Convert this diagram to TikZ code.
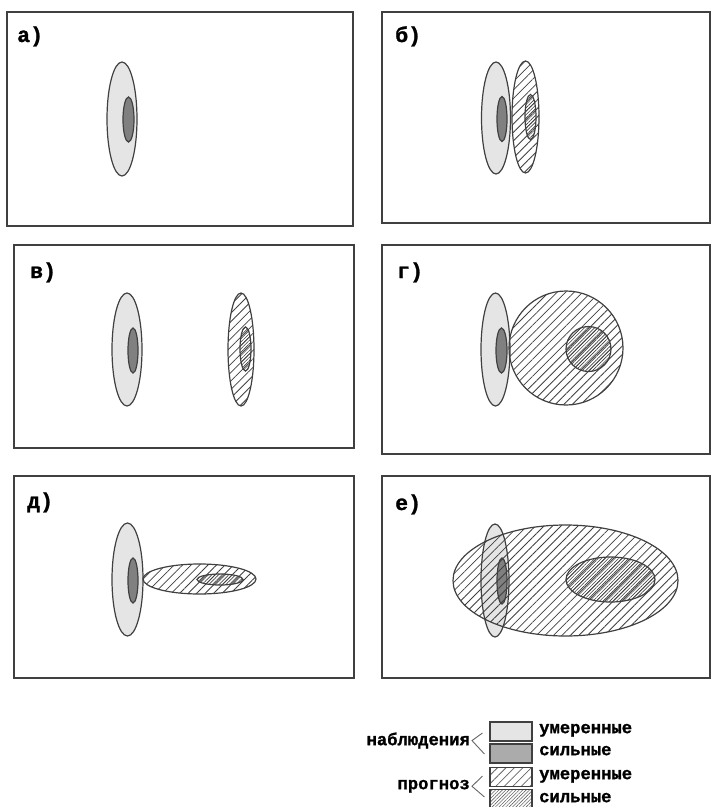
\documentclass[tikz,border=0pt]{standalone}
\usepackage{fontspec}
\newfontfamily\monofnt{Liberation Mono}[BoldFeatures={FakeBold=1.2}]
\usetikzlibrary{patterns.meta}

\begin{document}
\begin{tikzpicture}[x=1pt, y=-1pt,
    panel/.style={draw=black!75, line width=1.3pt},
    obsmod/.style={draw=black!75, line width=1.2pt, fill=black!10},
    obsstr/.style={draw=black!75, line width=1.2pt, fill=black!50},
    fcmod/.style={draw=black!75, line width=1.2pt, pattern={Lines[angle=45, distance=6pt, line width=0.8pt]}, pattern color=black!75},
    fcstr/.style={draw=black!75, line width=1.2pt, pattern={Lines[angle=45, distance=2.4pt, line width=0.6pt]}, pattern color=black!75},
    lbl/.style={font=\monofnt\bfseries\fontsize{21.5}{24}\selectfont, anchor=base west, inner sep=0pt},
    leg/.style={font=\monofnt\bfseries\fontsize{17.2}{19}\selectfont, inner sep=0pt},
    legbox/.style={draw=black!75, line width=1.1pt, minimum width=42pt, minimum height=19pt, inner sep=0pt},
    brk/.style={draw=black!60, line width=0.9pt}
]
\useasboundingbox (0,0) rectangle (712,807);

% а) observed only
\draw[panel] (7,12) rectangle (353,226);
\node[lbl] (la) at (17,42) {а)};
\draw[obsmod] (122,119) ellipse [x radius=15, y radius=57];
\draw[obsstr] (128.5,119.5) ellipse [x radius=5.5, y radius=22.5];

% б) forecast next to observation
\draw[panel] (382,12) rectangle (710,223);
\node[lbl] (lb) at (395,42) {б)};
\draw[obsmod] (496,118) ellipse [x radius=14.5, y radius=56];
\draw[obsstr] (502,119) ellipse [x radius=5, y radius=22.5];
\draw[fcmod] (525.5,117) ellipse [x radius=13.5, y radius=56];
\draw[fcstr] (530.5,117) ellipse [x radius=5.5, y radius=22.5];

% в) forecast displaced
\draw[panel] (14,245) rectangle (354,448);
\node[lbl] (lv) at (30,278) {в)};
\draw[obsmod] (127,349.5) ellipse [x radius=15, y radius=56.5];
\draw[obsstr] (133,350.5) ellipse [x radius=5, y radius=22.5];
\draw[fcmod] (241,349.5) ellipse [x radius=13, y radius=56.5];
\draw[fcstr] (245.5,349) ellipse [x radius=5.5, y radius=22];

% г) round forecast
\draw[panel] (382,245) rectangle (710,454);
\node[lbl] (lg) at (397,278) {г)};
\draw[obsmod] (495.5,349.5) ellipse [x radius=14.5, y radius=56.5];
\draw[obsstr] (501.5,350.5) ellipse [x radius=5.5, y radius=22.5];
\draw[fcmod] (566,348) circle [radius=57];
\draw[fcstr] (588.5,349) circle [radius=22.5];

% д) flat forecast
\draw[panel] (14,476) rectangle (354,678);
\node[lbl] (ld) at (27,508) {д)};
\draw[obsmod] (127.5,579.5) ellipse [x radius=15.5, y radius=56.5];
\draw[obsstr] (133,580.5) ellipse [x radius=5, y radius=22.5];
\draw[fcmod] (199.5,579) ellipse [x radius=56.5, y radius=15];
\draw[fcstr] (220,579.5) ellipse [x radius=23, y radius=5.5];

% е) large forecast over observation
\draw[panel] (382,476) rectangle (710,678);
\node[lbl] (le) at (395,510) {е)};
\draw[obsmod] (495,580.5) ellipse [x radius=14, y radius=56.5];
\draw[obsstr] (502,581) ellipse [x radius=5, y radius=23];
\draw[fcmod] (565.5,580.5) ellipse [x radius=112.5, y radius=55.5];
\draw[fcstr] (610.5,579.5) ellipse [x radius=44.5, y radius=22.5];

% legend
\node[legbox, fill=black!10] (kA) at (511,731.5) {};
\node[legbox, fill=black!33] (kB) at (511,753.5) {};
\node[legbox, pattern={Lines[angle=45, distance=6pt, line width=0.8pt]}, pattern color=black!60] (kC) at (511,777) {};
\node[legbox, pattern={Lines[angle=45, distance=2.4pt, line width=0.6pt]}, pattern color=black!60] (kD) at (511,799) {};
\node[leg, anchor=mid west] (tA) at (539,731) {умеренные};
\node[leg, anchor=mid west] (tB) at (539,753) {сильные};
\node[leg, anchor=mid west] (tC) at (539,777) {умеренные};
\node[leg, anchor=mid west] (tD) at (539,800) {сильные};
\node[leg, anchor=mid east] (tobs) at (470,743) {наблюдения};
\node[leg, anchor=mid east] (tfc) at (470,787) {прогноз};
\draw[brk] ([shift={(-7,1.5)}]kA.west) -- ([xshift=2pt]tobs.east) -- ([shift={(-5,0.5)}]kB.west);
\draw[brk] ([shift={(-7,-1)}]kC.west) -- ([xshift=2pt]tfc.east) -- ([shift={(-5,-2)}]kD.west);
\end{tikzpicture}
\end{document}
